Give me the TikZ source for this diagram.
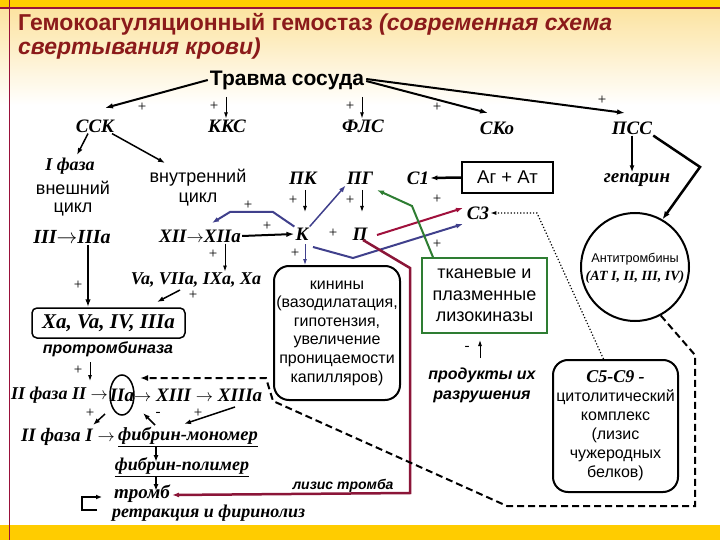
\documentclass[tikz,border=0pt]{standalone}
\usepackage{fontspec}
\setmainfont{Liberation Serif}
\setsansfont{Liberation Sans}
\usetikzlibrary{arrows.meta,shapes.geometric}
\definecolor{tred}{HTML}{8B1A1A}
\definecolor{frame}{HTML}{99103A}
\definecolor{band}{HTML}{FFCC00}
\definecolor{topy}{HTML}{FCE3A0}
\definecolor{bl}{HTML}{40408C}
\definecolor{cr}{HTML}{A0103C}
\definecolor{mr}{HTML}{8B1538}
\definecolor{gr}{HTML}{2E7D32}
\newcommand{\ra}{\ensuremath{\rightarrow}}
\begin{document}
\begin{tikzpicture}[x=1pt,y=-1pt,
  ser/.style={font=\fontsize{19}{21}\selectfont\bfseries\itshape, inner sep=1pt},
  sers/.style={font=\fontsize{18}{20}\selectfont\bfseries\itshape, inner sep=1pt},
  sn/.style={font=\sffamily\fontsize{18}{20}\selectfont, inner sep=1pt},
  snbi/.style={font=\sffamily\fontsize{16}{20}\selectfont\bfseries\itshape, inner sep=1pt},
  pl/.style={font=\fontsize{15}{15}\selectfont, inner sep=0pt},
  conn/.style={line width=2pt, -{Latex[length=8pt,width=5.5pt]}},
  mconn/.style={line width=1.5pt, -{Latex[length=7pt,width=5pt]}},
  tconn/.style={line width=0.9pt, -{Latex[length=6pt,width=4pt]}},
  boxr/.style={draw, line width=2pt, rounded corners=15pt},
  dsh/.style={line width=2pt, dash pattern=on 7pt off 4pt}
]
% background
\useasboundingbox (0,0) rectangle (720,540);
\fill[white] (0,0) rectangle (720,540);
\shade[top color=topy, bottom color=white] (0,8) rectangle (720,105);
\fill[band] (0,0) rectangle (720,8);
\fill[band] (0,525) rectangle (720,540);
\draw[frame, line width=1.5pt] (0,8) -- (720,8);
\draw[frame, line width=1.5pt] (9.5,0) -- (9.5,540);

% title
\node[anchor=west, text=tred, font=\sffamily\fontsize{23}{25}\selectfont\bfseries, inner sep=0pt] (t1) at (18,24) {Гемокоагуляционный гемостаз \textit{(современная схема}};
\node[anchor=west, text=tred, font=\sffamily\fontsize{23}{25}\selectfont\bfseries\itshape, inner sep=0pt] (t2) at (18,49) {свертывания крови)};

% top row
\node[font=\sffamily\fontsize{21}{23}\selectfont\bfseries, inner sep=2pt] (tr) at (287,80) {Травма сосуда};
\node[ser] (ssk) at (95,126) {ССК};
\node[ser] (kks) at (227,126) {ККС};
\node[ser] (fls) at (363,126) {ФЛС};
\node[ser] (sko) at (497,128) {СКо};
\node[ser] (pss) at (632,128) {ПСС};
\coordinate (a1) at (105,108);
\coordinate (a2) at (488,113);
\coordinate (a3) at (625,113);
\draw[conn] (tr.west) -- (a1);
\draw[conn] ([yshift=-1pt]tr.east) -- (a2);
\draw[conn] ([yshift=1pt]tr.east) -- (a3);
\node[pl] (p1) at (142,107) {+};
\node[pl] (p2) at (437,107) {+};
\node[pl] (p3) at (602,100) {+};
\node[pl] (p4) at (214,106) {+};
\node[pl] (p5) at (350,106) {+};
\coordinate (k0) at (226,97);
\coordinate (f0) at (362,97);
\draw[tconn] (k0) -- (kks.north -| k0);
\draw[tconn] (f0) -- (fls.north -| f0);

% left column
\node[sers] (ph1) at (70,166) {I фаза};
\node[sn] (ext1) at (73,188) {внешний};
\node[sn] (ext2) at (73,210) {цикл};
\node[font=\fontsize{20}{22}\selectfont\bfseries\itshape, inner sep=1pt] (iii) at (72,237) {III\ra IIIa};
\coordinate (b1) at (77,155);
\coordinate (b2) at (165,163);
\draw[mconn] ([xshift=-7pt]ssk.south) -- (b1);
\draw[mconn] ([xshift=17pt]ssk.south) -- (b2);
\node[sn] (in1) at (198,178) {внутренний};
\node[sn] (in2) at (198,200) {цикл};
\node[ser] (xii) at (200,236) {XII\ra XIIa};
\node[pl] (p6) at (78,285) {+};
\node[sers] (va) at (196,280) {Va, VIIa, IXa, Xa};
\node[pl] (p7) at (213,254) {+};
\draw[tconn] ([xshift=25pt]xii.south) -- ([xshift=29pt]va.north);
\node[draw, line width=1.5pt, rounded corners=5pt, minimum width=153pt, minimum height=30pt, inner sep=0pt, font=\fontsize{21}{23}\selectfont\bfseries\itshape] (xa) at (108.5,323) {Xa, Va, IV, IIIa};
\draw[conn] ([xshift=16pt]iii.south) -- ([xshift=-20.5pt]xa.north);
\coordinate (c1) at (180,290);
\coordinate (c2) at (157,302);
\draw[mconn] (c1) -- (c2);
\node[pl] (p8) at (193,295) {+};
\node[snbi] (ptb) at (108,349) {протромбиназа};
\node[pl] (p9) at (78,370) {+};
\node[sers, anchor=east] (ph2) at (109,395) {II фаза II \ra};
\node[ser] (iia) at (122,395) {IIa};
\draw[line width=1.5pt] (iia.center) ellipse [x radius=12, y radius=20];
\node[ser, anchor=west] (xiii) at (133,395) {\ra\ XIII \ra\ XIIIa};
\draw[tconn] (90,362) -- (90,381);
\node[pl] (p10) at (90,413) {+};
\node[pl] (m1) at (158,414) {-};
\node[pl] (p11) at (198,413) {+};
\node[ser, anchor=east] (ph3) at (116,437) {II фаза I \ra};
\node[font=\fontsize{18.5}{21}\selectfont\bfseries\itshape, inner sep=1pt, anchor=west] (fm) at (117,437) {\underline{фибрин-мономер}};
\draw[mconn] (105,414) -- (93,425);
\draw[mconn] (155,425) -- (143,413);
\draw[mconn] (235,407) -- (184,424);
\node[sers] (fp) at (182,467) {\underline{фибрин-полимер}};
\draw[mconn] (156,446) -- (156,462);
\draw[mconn] (156,477) -- (156,491);
\node[ser, anchor=west] (tromb) at (113,494) {тромб};
\node[sers, anchor=west] (retr) at (111,513) {ретракция и фиринолиз};
\coordinate (br1) at (97,510);
\coordinate (br2) at (82,510);
\coordinate (br3) at (82,497);
\coordinate (br4) at (102,497);
\draw[line width=2.5pt, -{Latex[length=6pt,width=5pt]}] (br1) -- (br2) -- (br3) -- (br4);

% middle
\node[ser] (pk) at (303,178) {ПК};
\node[ser] (pg) at (360,178) {ПГ};
\node[pl] (p12) at (293,200) {+};
\node[pl] (p13) at (350,200) {+};
\node[ser] (k) at (302,234) {К};
\node[pl] (p14) at (333,233) {+};
\node[ser] (pp) at (360,234) {П};
\draw[tconn] (305,190) -- (305,212);
\draw[tconn] (362,190) -- (362,212);
\draw[conn] (xii.east) -- (k.west);
\node[pl] (p15) at (267,226) {+};
\coordinate (d1) at (273,212);
\coordinate (d2) at (230,212);
\coordinate (d3) at (212,223);
\draw[bl, line width=2pt, -{Latex[length=7pt,width=5pt]}] (k.north west) -- (d1) -- (d2) -- (d3);
\node[pl] (p16) at (248,205) {+};
\draw[bl, line width=1.5pt, -{Latex[length=7pt,width=5pt]}] (k.north east) -- (pg.south west);
\node[pl] (p17) at (295,253) {+};
\node[boxr, minimum width=126pt, minimum height=134pt, inner sep=0pt, font=\sffamily\fontsize{16}{18.6}\selectfont, align=center] (kin) at (337,333) {кинины\\(вазодилатация,\\гипотензия,\\увеличение\\проницаемости\\капилляров)};
\coordinate (kd) at (305,244);
\draw[bl, line width=0.9pt, -{Latex[length=6pt,width=4pt]}] (kd) -- (kd |- kin.north);

% right middle
\node[ser] (c1n) at (418,178) {С1};
\node[draw, line width=1.5pt, minimum width=91pt, minimum height=31pt, inner sep=0pt, font=\sffamily\fontsize{18.5}{20}\selectfont] (agat) at (507.5,177.5) {Аг + Ат};
\draw[line width=2.5pt, -{Latex[length=7pt,width=5pt]}] (agat.west) -- (c1n.east);
\node[pl] (p18) at (437,199) {+};
\node[pl] (p19) at (437,244) {+};
\node[ser] (c3) at (478,213) {С3};
\coordinate (e1) at (313,247);
\coordinate (e2) at (353,258);
\draw[bl, line width=2pt, -{Latex[length=7pt,width=5pt]}] (e1) -- (e2) -- (463,224);
\draw[cr, line width=2pt, -{Latex[length=7pt,width=5pt]}] (377,235) -- (463,208);
\node[draw=gr, line width=1.5pt, minimum width=125pt, minimum height=75pt, inner sep=0pt, font=\sffamily\fontsize{18}{21.5}\selectfont, align=center, fill=white] (tis) at (484.5,295.5) {тканевые и\\плазменные\\лизокиназы};
\coordinate (g1) at (412,206);
\draw[gr, line width=2pt, -{Latex[length=7pt,width=5pt]}] ([xshift=-51.5pt]tis.north) -- (g1) -- (377,190);
\coordinate (r1) at (410,268);
\coordinate (r2) at (410,493);
\coordinate (r3) at (172,495);
\draw[mr, line width=2.5pt, -{Latex[length=7pt,width=5pt]}] (363,240) -- (r1) -- (r2) -- (r3);
\node[font=\sffamily\fontsize{14}{15}\selectfont\bfseries\itshape, inner sep=1pt] (lt) at (343,486) {лизис тромба};
\node[pl] (m2) at (467,348) {-};
\draw[tconn] (480,358) -- (480,340);
\node[snbi, align=center] (prod) at (482,385) {продукты их\\разрушения};

% right column
\node[font=\fontsize{19}{21}\selectfont\bfseries\itshape, inner sep=1pt] (hep) at (637,180) {гепарин};
\draw[mconn] (pss.south) -- (hep.north -| pss.south);
\node[draw, circle, line width=2pt, minimum size=108pt, inner sep=0pt] (at) at (635,267) {};
\node[font=\sffamily\fontsize{12.7}{14}\selectfont, inner sep=0pt] (at1) at (635,259) {Антитромбины};
\node[font=\fontsize{14}{16}\selectfont\bfseries\itshape, inner sep=0pt] (at2) at (635,277) {(АТ I, II, III, IV)};
\coordinate (h1) at (700,167);
\draw[line width=2.5pt, -{Latex[length=8pt,width=6pt]}] (pss.south east) -- (h1) -- (at.60);
\node[boxr, minimum width=125pt, minimum height=132pt, inner sep=0pt, font=\sffamily\fontsize{16}{19}\selectfont, align=center] (c59) at (615.5,426) {{\rmfamily\bfseries\itshape\fontsize{18}{19}\selectfont С5-С9 -}\\цитолитический\\комплекс\\(лизис\\чужеродных\\белков)};
\coordinate (q1) at (537,213);
\draw[line width=1.2pt, dotted, -{Latex[length=6pt,width=4pt]}] ([xshift=-12pt]c59.north) -- (q1) -- (c3.east);

% dashed loop
\coordinate (s1) at (695,355);
\coordinate (s2) at (695,506);
\coordinate (s3) at (507,506);
\coordinate (s4) at (273,401);
\coordinate (s5) at (266,378);
\draw[dsh, -{Latex[length=8pt,width=6pt]}] (at.-62) -- (s1) -- (s2) -- (s3) -- (s4) -- (s5) -- (140,378);
\end{tikzpicture}
\end{document}
